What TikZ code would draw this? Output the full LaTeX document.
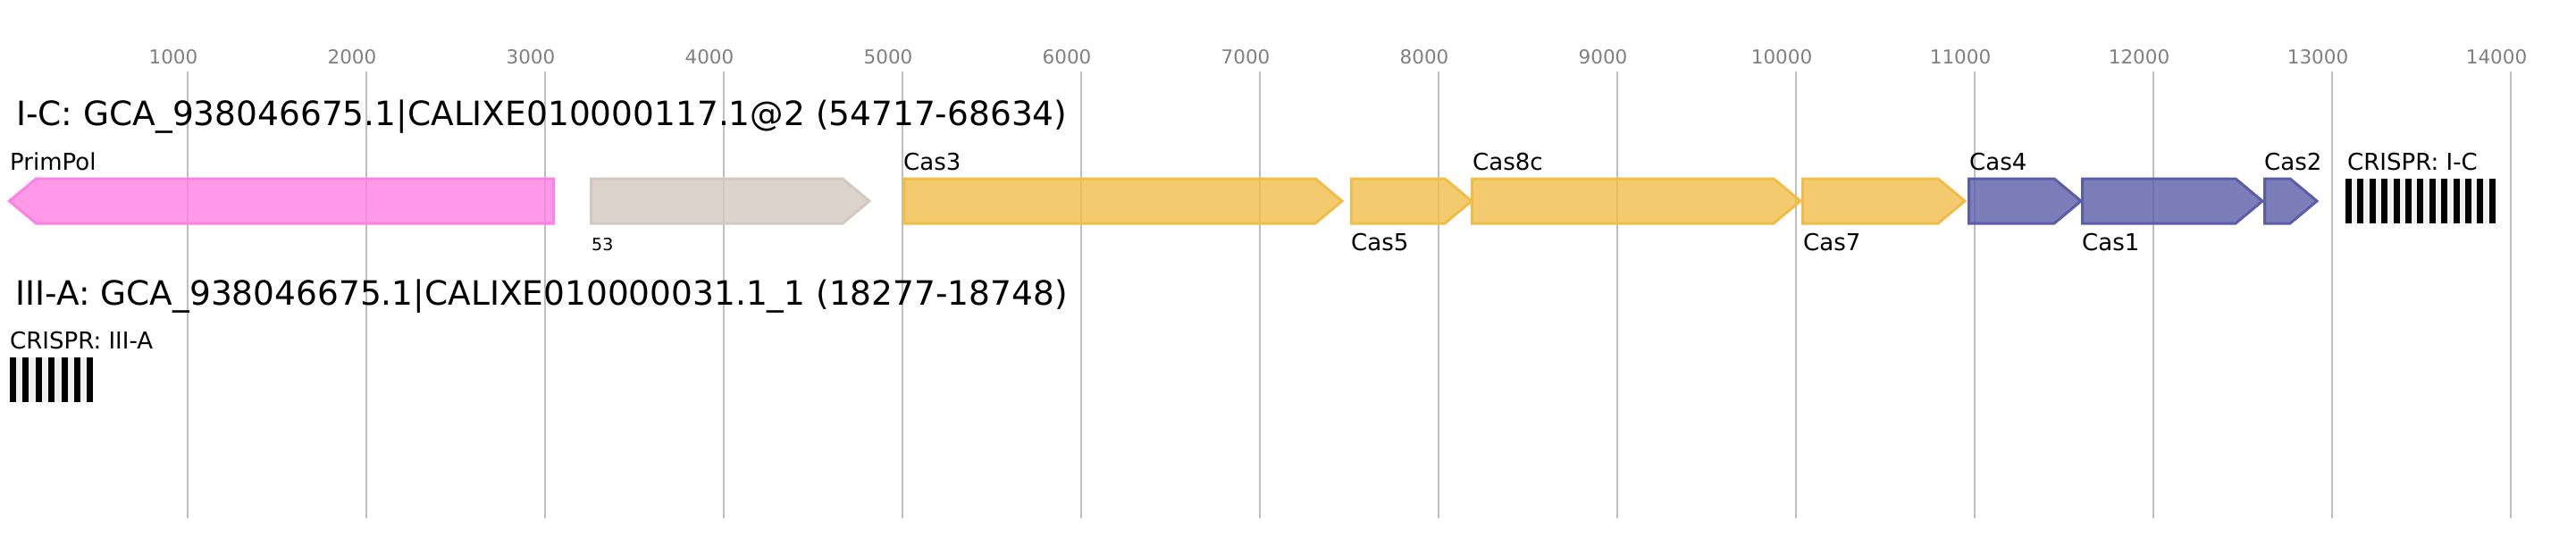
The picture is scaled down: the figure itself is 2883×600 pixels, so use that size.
\documentclass[tikz,border=0pt]{standalone}
\usepackage{fontspec}
\setmainfont{DejaVu Sans}
\definecolor{gridc}{HTML}{BFBFBF}
\definecolor{axisc}{HTML}{808080}
\definecolor{pinkc}{HTML}{FF80E3}
\definecolor{grayc}{HTML}{D4C9C1}
\definecolor{yellc}{HTML}{F0BD4A}
\definecolor{bluec}{HTML}{5A5EA8}
\definecolor{spacerc}{HTML}{F0F0F0}
\newcommand\geneF[3]{\draw[genebox,#3] (#1,200) -- ({#2-30},200) -- (#2,225) -- ({#2-30},250) -- (#1,250) -- cycle;}
\newcommand\geneR[3]{\draw[genebox,#3] (#1,225) -- ({#1+30},200) -- (#2,200) -- (#2,250) -- ({#1+30},250) -- cycle;}
\begin{document}
\begin{tikzpicture}[x=1pt,y=-1pt,
  gridline/.style={draw=gridc,line width=1.5pt},
  axislabel/.style={anchor=base,inner sep=0pt,text=axisc,font=\fontsize{21.5}{24}\selectfont},
  titlelabel/.style={anchor=base west,inner sep=0pt,font=\fontsize{37.5}{40}\selectfont},
  genelabel/.style={anchor=base west,inner sep=0pt,font=\fontsize{26}{28}\selectfont},
  smalllabel/.style={anchor=base west,inner sep=0pt,font=\fontsize{19}{21}\selectfont},
  genebox/.style={line width=3pt,line join=miter,fill opacity=0.8},
  pinkgene/.style={draw=pinkc,fill=pinkc},
  graygene/.style={draw=grayc,fill=grayc},
  yellgene/.style={draw=yellc,fill=yellc},
  bluegene/.style={draw=bluec,fill=bluec},
  spacerbg/.style={fill=spacerc},
  repeatbar/.style={fill=black}]
\useasboundingbox (0,0) rectangle (2883,600);
\fill[white] (0,0) rectangle (2883,600);
% grid and axis
\foreach \i in {1,...,14} {
  \draw[gridline] ({10+200*\i},80) -- ({10+200*\i},580);
  \node[axislabel] (ax\i) at ({10+200*\i-16},71) {\i000};
}
% titles
\node[titlelabel] (t1) at (18,140) {I-C: GCA\_938046675.1|CALIXE010000117.1@2 (54717-68634)};
\node[titlelabel] (t2) at (17,341) {III-A: GCA\_938046675.1|CALIXE010000031.1\_1 (18277-18748)};
% genes row 1
\geneR{10.5}{619.5}{pinkgene}
\geneF{661.5}{973}{graygene}
\geneF{1011.5}{1502}{yellgene}
\geneF{1512.5}{1647}{yellgene}
\geneF{1647.5}{2015}{yellgene}
\geneF{2017.5}{2199}{yellgene}
\geneF{2203.5}{2329}{bluegene}
\geneF{2330.5}{2532}{bluegene}
\geneF{2534.5}{2593}{bluegene}
% gene labels
\node[genelabel] (lprimpol) at (11,190) {PrimPol};
\node[smalllabel] (l53) at (662,280) {53};
\node[genelabel] (lcas3) at (1011,190) {Cas3};
\node[genelabel] (lcas5) at (1512,280) {Cas5};
\node[genelabel] (lcas8c) at (1648,190) {Cas8c};
\node[genelabel] (lcas7) at (2018,280) {Cas7};
\node[genelabel] (lcas4) at (2204,190) {Cas4};
\node[genelabel] (lcas1) at (2330,280) {Cas1};
\node[genelabel] (lcas2) at (2534,190) {Cas2};
\node[genelabel] (lcrIC) at (2627,190) {CRISPR: I-C};
% CRISPR I-C array
\fill[spacerbg] (2625,200) rectangle (2793,250);
\foreach \k in {0,...,12} {
  \fill[repeatbar] ({2625+13.4*\k},200) rectangle ({2632+13.4*\k},250);
}
% CRISPR III-A array
\node[genelabel] (lcrIIIA) at (11,390) {CRISPR: III-A};
\fill[spacerbg] (11,400) rectangle (104,450);
\foreach \k in {0,...,6} {
  \fill[repeatbar] ({11+14.4*\k},400) rectangle ({18+14.4*\k},450);
}
\end{tikzpicture}
\end{document}
